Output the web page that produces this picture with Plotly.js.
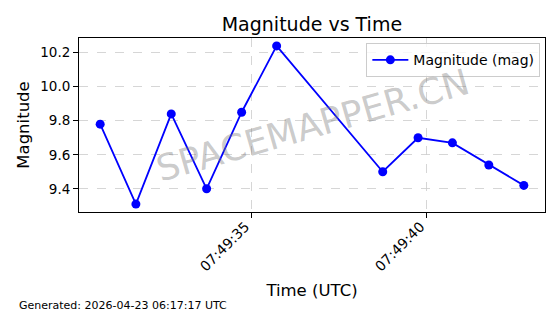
<!DOCTYPE html>
<html><head><meta charset="utf-8">
<script src="https://cdn.plot.ly/plotly-3.0.1.min.js"></script>
<style>body{margin:0;padding:0;background:#fff}#chart{width:560px;height:314px}</style>
</head><body><div id="chart"></div>
<script>
var times = ["2026-04-23 07:49:30.68","2026-04-23 07:49:31.70","2026-04-23 07:49:32.71","2026-04-23 07:49:33.72","2026-04-23 07:49:34.72","2026-04-23 07:49:35.72","2026-04-23 07:49:38.75","2026-04-23 07:49:39.76","2026-04-23 07:49:40.74","2026-04-23 07:49:41.78","2026-04-23 07:49:42.78"];
var magnitudes = [9.78, 9.31, 9.84, 9.40, 9.85, 10.24, 9.50, 9.70, 9.67, 9.54, 9.42];
var xTickVals = ["2026-04-23 07:49:35","2026-04-23 07:49:40"];
var xTickText = ["07:49:35","07:49:40"];
var yTickVals = [9.4, 9.6, 9.8, 10.0, 10.2];
var yTickText = ["9.4","9.6","9.8","10.0","10.2"];

var font = "DejaVu Sans, sans-serif";
var trace = {
  x: times, y: magnitudes, type: "scatter", mode: "lines+markers",
  name: "Magnitude (mag)",
  line: {color: "#0000ff", width: 1.8},
  marker: {color: "#0000ff", size: 9}
};
var layout = {
  width: 560, height: 314,
  margin: {l: 79, r: 15, t: 38, b: 102, pad: 0},
  paper_bgcolor: "#ffffff", plot_bgcolor: "#ffffff",
  font: {family: font, color: "#000", size: 13},
  title: {text: "Magnitude vs Time", font: {size: 19, family: font}, x: 0.557, xanchor: "center", y: 0.922, yanchor: "middle"},
  xaxis: {
    type: "date",
    range: ["2026-04-23 07:49:30.075", "2026-04-23 07:49:43.385"],
    tickvals: xTickVals, ticktext: xTickText, tickangle: -45,
    ticklabelshift: -6, ticklabelstandoff: -5,
    ticks: "outside", ticklen: 5, tickcolor: "#000",
    showline: true, linecolor: "#000", linewidth: 1, mirror: true,
    showgrid: true, gridcolor: "#cccccc", griddash: "dash", gridwidth: 0.8,
    zeroline: false, tickfont: {size: 14},
    title: {text: "Time (UTC)", font: {size: 16.5}, standoff: 11}
  },
  yaxis: {
    range: [9.2635, 10.2865],
    tickvals: yTickVals, ticktext: yTickText,
    ticks: "outside", ticklen: 5, tickcolor: "#000",
    showline: true, linecolor: "#000", linewidth: 1, mirror: true,
    showgrid: true, gridcolor: "#cccccc", griddash: "dash", gridwidth: 0.8,
    zeroline: false, tickfont: {size: 13.5},
    title: {text: "Magnitude", font: {size: 16.5}, standoff: 6}
  },
  showlegend: true,
  legend: {x: 0.99, y: 0.97, xanchor: "right", yanchor: "top",
    bgcolor: "rgba(255,255,255,0.8)", bordercolor: "#cccccc", borderwidth: 1,
    font: {size: 14}, itemwidth: 36},
  annotations: [
    {text: "SPACEMAPPER.CN", xref: "paper", yref: "paper", x: 0.5, y: 0.5,
     showarrow: false, textangle: -16, font: {size: 36, color: "rgba(120,120,120,0.4)", family: font}},
    {text: "Generated: 2026-04-23 06:17:17 UTC", xref: "paper", yref: "paper",
     x: (17 - 79) / 466, y: (212 - 305) / 174, xanchor: "left", yanchor: "middle", showarrow: false,
     font: {size: 11, family: font}}
  ]
};
Plotly.newPlot("chart", [trace], layout, {staticPlot: true, displayModeBar: false});
</script></body></html>
